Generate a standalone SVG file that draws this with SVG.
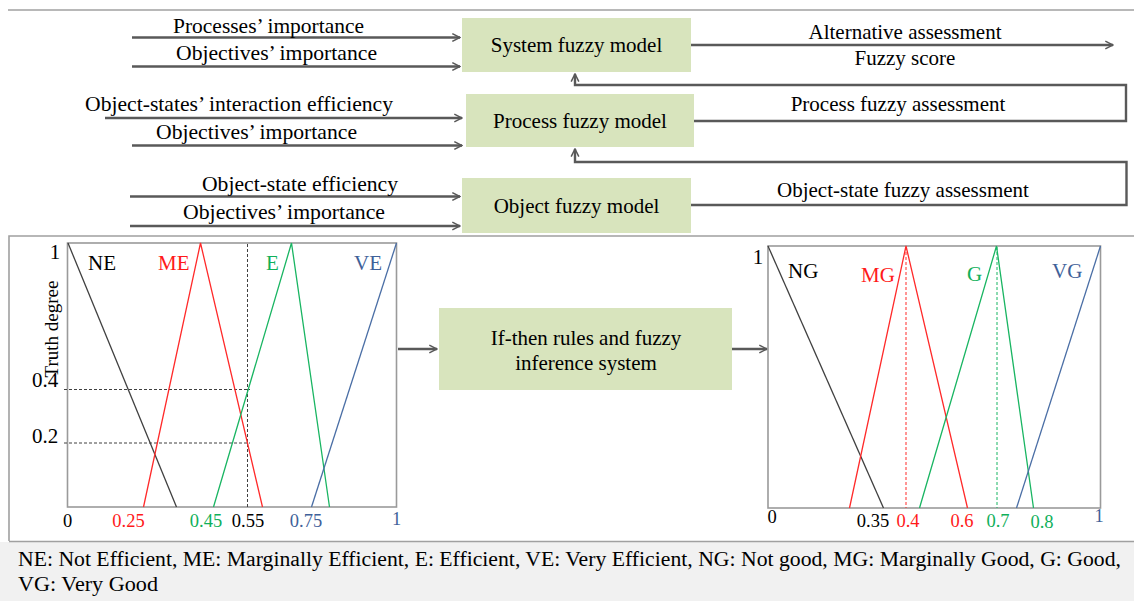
<svg xmlns="http://www.w3.org/2000/svg" width="1134" height="601" viewBox="0 0 1134 601" font-family="'Liberation Serif', 'DejaVu Serif', serif">
  <style>
    text { font-family: 'Liberation Serif', 'DejaVu Serif', 'Noto Serif', serif; fill: #000; }
    .lbl { font-size: 21px; }
    .box rect { fill: #d8e4bd; }
    .box text { font-size: 21px; text-anchor: middle; }
    .conn { fill: none; stroke: #595959; stroke-width: 2.4; }
    .frame { fill: none; stroke: #a0a0a0; stroke-width: 1.6; }
    .axes { fill: none; stroke: #9a9a9a; stroke-width: 1.6; }
    .mf { fill: none; stroke-width: 1.3; }
    .k { stroke: #404040; }
    .r { stroke: #ff2a2a; }
    .g { stroke: #19b562; }
    .b { stroke: #4a6ea5; }
    .dash { fill: none; stroke-width: 1; stroke-dasharray: 3 2; }
    .ax { font-size: 21px; }
    .yl { font-size: 19px; }
    .tk { font-size: 18.5px; text-anchor: middle; }
    .tr { fill: #ff1a1a; }
    .tg { fill: #10b05a; }
    .tb { fill: #3f6199; }
  </style>
  <defs>
    <marker id="arr" viewBox="0 0 10 10" refX="9" refY="5" markerWidth="4" markerHeight="4" orient="auto" markerUnits="strokeWidth">
      <path d="M1,1 L9,5 L1,9" fill="none" stroke="#595959" stroke-width="1.6"/>
    </marker>
  </defs>

  <!-- frame lines -->
  <line class="frame" x1="8" y1="10" x2="1134" y2="10"/>
  <path class="frame" d="M9,541 V236 H1134"/>
  <rect x="0" y="542" width="1134" height="59" fill="#f1f1f1"/>
  <line class="frame" x1="9" y1="541.5" x2="1134" y2="541.5"/>

  <!-- model nodes -->
  <g id="system-model" class="box">
    <rect x="462" y="18" width="229" height="54"/>
    <text x="576.5" y="52">System fuzzy model</text>
  </g>
  <g id="process-model" class="box">
    <rect x="466" y="94" width="228" height="53"/>
    <text x="580" y="128">Process fuzzy model</text>
  </g>
  <g id="object-model" class="box">
    <rect x="462" y="178" width="229" height="55"/>
    <text x="576.5" y="213">Object fuzzy model</text>
  </g>
  <g id="inference" class="box">
    <rect x="439" y="308" width="293" height="82"/>
    <text x="586" y="345">If-then rules and fuzzy</text>
    <text x="586" y="370">inference system</text>
  </g>

  <!-- connectors -->
  <g id="connectors">
    <line class="conn" x1="132" y1="37.5" x2="460" y2="37.5" marker-end="url(#arr)"/>
    <line class="conn" x1="132" y1="66.5" x2="460" y2="66.5" marker-end="url(#arr)"/>
    <line class="conn" x1="105" y1="118" x2="462" y2="118" marker-end="url(#arr)"/>
    <line class="conn" x1="132" y1="145.5" x2="462" y2="145.5" marker-end="url(#arr)"/>
    <line class="conn" x1="130" y1="196.5" x2="460" y2="196.5" marker-end="url(#arr)"/>
    <line class="conn" x1="130" y1="226" x2="460" y2="226" marker-end="url(#arr)"/>
    <line class="conn" x1="691" y1="45" x2="1113" y2="45" marker-end="url(#arr)"/>
    <path class="conn" d="M694,121 H1126 V85 H575 V74" marker-end="url(#arr)"/>
    <path class="conn" d="M691,205 H1126.5 V162 H575 V149" marker-end="url(#arr)"/>
    <line class="conn" x1="398" y1="349" x2="437" y2="349" marker-end="url(#arr)"/>
    <line class="conn" x1="732" y1="349" x2="767" y2="349" marker-end="url(#arr)"/>
  </g>

  <!-- connector labels -->
  <g id="labels" class="lbl">
    <text x="173" y="33" textLength="191" lengthAdjust="spacingAndGlyphs">Processes’ importance</text>
    <text x="176" y="60" textLength="201" lengthAdjust="spacingAndGlyphs">Objectives’ importance</text>
    <text x="85" y="111" textLength="308" lengthAdjust="spacingAndGlyphs">Object-states’ interaction efficiency</text>
    <text x="156" y="139" textLength="201" lengthAdjust="spacingAndGlyphs">Objectives’ importance</text>
    <text x="202" y="191" textLength="196" lengthAdjust="spacingAndGlyphs">Object-state efficiency</text>
    <text x="183" y="219" textLength="202" lengthAdjust="spacingAndGlyphs">Objectives’ importance</text>
    <text x="905" y="39" text-anchor="middle">Alternative assessment</text>
    <text x="905" y="65" text-anchor="middle">Fuzzy score</text>
    <text x="898" y="111" text-anchor="middle">Process fuzzy assessment</text>
    <text x="903" y="197" text-anchor="middle">Object-state fuzzy assessment</text>
  </g>

  <!-- input membership functions -->
  <g id="input-chart">
    <rect class="axes" x="67.5" y="243" width="329" height="264"/>
    <line class="dash k" x1="247.5" y1="244" x2="247.5" y2="507"/>
    <line class="dash k" x1="64" y1="389.5" x2="250" y2="389.5"/>
    <line class="dash k" x1="64" y1="443" x2="250" y2="443"/>
    <polyline class="mf k" points="68,243 176.5,507"/>
    <polyline class="mf r" points="143.5,507 200.5,243 262.5,507"/>
    <polyline class="mf g" points="213.5,507 291.5,243 329.5,507"/>
    <polyline class="mf b" points="311.5,507 396.5,243"/>
    <text class="ax" x="55" y="259" text-anchor="middle">1</text>
    <text class="ax" x="88" y="270">NE</text>
    <text class="ax tr" x="158" y="270">ME</text>
    <text class="ax tg" x="266" y="270">E</text>
    <text class="ax tb" x="354" y="270">VE</text>
    <text class="ax" x="45" y="387" text-anchor="middle">0.4</text>
    <text class="ax" x="45" y="443" text-anchor="middle">0.2</text>
    <text class="yl" transform="translate(58,329) rotate(-90)" text-anchor="middle">Truth degree</text>
    <text class="tk" x="67.5" y="527">0</text>
    <text class="tk tr" x="128.5" y="527">0.25</text>
    <text class="tk tg" x="206" y="527">0.45</text>
    <text class="tk" x="248" y="527">0.55</text>
    <text class="tk tb" x="306" y="527">0.75</text>
    <text class="tk tb" x="396.5" y="525">1</text>
  </g>

  <!-- output membership functions -->
  <g id="output-chart">
    <rect class="axes" x="768" y="246" width="332.5" height="262"/>
    <line class="dash r" x1="906" y1="247" x2="906" y2="508"/>
    <line class="dash g" x1="997" y1="247" x2="997" y2="508"/>
    <polyline class="mf k" points="768,246 883.5,508"/>
    <polyline class="mf r" points="849.5,508 906,246 967.5,508"/>
    <polyline class="mf g" points="919.5,508 996.5,246 1033.5,508"/>
    <polyline class="mf b" points="1016.5,508 1100.5,246"/>
    <text class="ax" x="758" y="264" text-anchor="middle">1</text>
    <text class="ax" x="788" y="278">NG</text>
    <text class="ax tr" x="861" y="282">MG</text>
    <text class="ax tg" x="967" y="281">G</text>
    <text class="ax tb" x="1052" y="278">VG</text>
    <text class="tk" x="772" y="523">0</text>
    <text class="tk" x="873" y="527">0.35</text>
    <text class="tk tr" x="908" y="527">0.4</text>
    <text class="tk tr" x="962" y="527">0.6</text>
    <text class="tk tg" x="998" y="527">0.7</text>
    <text class="tk tg" x="1042" y="528">0.8</text>
    <text class="tk tb" x="1099" y="522">1</text>
  </g>

  <!-- abbreviations -->
  <g id="legend" font-size="20.5">
    <text x="18" y="566" textLength="1103" lengthAdjust="spacingAndGlyphs">NE: Not Efficient, ME: Marginally Efficient, E: Efficient, VE: Very Efficient, NG: Not good, MG: Marginally Good, G: Good,</text>
    <text x="18" y="591" textLength="140" lengthAdjust="spacingAndGlyphs">VG: Very Good</text>
  </g>
</svg>
